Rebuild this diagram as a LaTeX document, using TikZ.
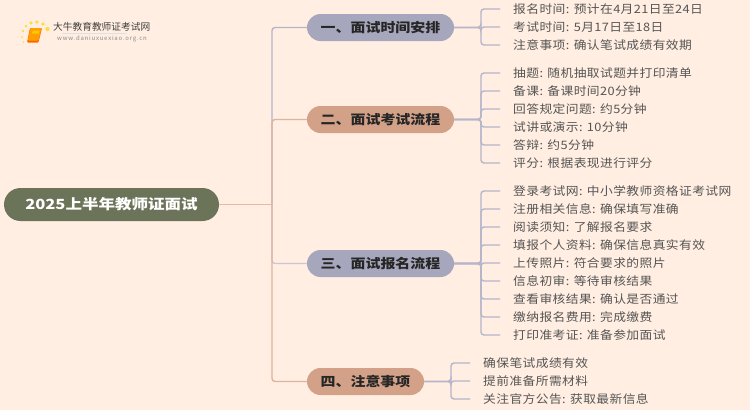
\documentclass[tikz,border=0pt]{standalone}
\usepackage{fontspec}
\setmainfont{Noto Sans CJK SC}
\usetikzlibrary{calc}
\definecolor{bgc}{HTML}{FFEEE1}
\definecolor{rootc}{HTML}{6B7358}
\definecolor{bluec}{HTML}{A6A6BC}
\definecolor{tanc}{HTML}{D2A187}
\definecolor{lblue}{HTML}{B5B5CB}
\definecolor{ltan}{HTML}{E6BBA3}
\definecolor{txt}{HTML}{555555}
\newcommand{\spc}[1]{\addfontfeature{LetterSpace=#1}}
\newcommand{\strc}[1]{\addfontfeature{FakeStretch=#1}}
\tikzset{
 x=1pt,y=-1pt,
 rootnode/.style={rounded corners=16.5pt,fill=rootc,text=white,minimum width=215pt,minimum height=33pt,inner sep=0pt,font=\fontsize{14}{15}\selectfont\bfseries\strc{1.18}},
 branch/.style={rounded corners=13.5pt,minimum height=27pt,minimum width=147pt,inner sep=0pt,text=black!85,font=\fontsize{13}{14}\selectfont\bfseries\strc{1.15}},
 leaf/.style={anchor=west,inner ysep=0pt,inner xsep=13pt,text=txt,font=\fontsize{11.6}{13}\selectfont\strc{1.1}\spc{3.5}},
 conn/.style={line width=1.4pt,rounded corners=3pt},
}
\begin{document}
\begin{tikzpicture}
\useasboundingbox (0,0) rectangle (750,410);
\fill[bgc] (0,0) rectangle (750,410);
% logo
\foreach \a/\b/\r in {23/31/1.3,26/26/1.5,31/23/1.8,37/22/1.9,43/24/1.9,47.5/29/2.2,22/37/1,23.5/42/.8}
  \fill[yellow!75!orange,opacity=.7] (\a,\b) circle (\r);
\fill[orange!80!red,rounded corners=1pt] (30,28) -- (42,28) -- (38.5,42.5) -- (27,42.5) -- cycle;
\fill[orange!75!yellow,rounded corners=1pt] (30.5,28) -- (41.5,28) -- (38.5,40.5) -- (27.8,40.5) -- cycle;
\fill[yellow!60!orange] (32.5,30.5) -- (39.5,30.5) -- (39,33.5) -- (32,33.5) -- cycle;
\fill[black!12] (62,33) rectangle (127,33.7);
\node[inner sep=0pt,anchor=west,text=black!75,font=\fontsize{9.7}{12}\selectfont] (logot) at (53,27) {大牛教育教师证考试网};
\node[inner sep=0pt,anchor=west,text=black!45,font=\fontsize{6}{7}\selectfont\spc{13}] (logou) at (57,39) {www.daniuxuexiao.org.cn};
% nodes
\node[rootnode] (root) at (111.5,204.5) {2025上半年教师证面试};
\node[branch,fill=bluec] (b1) at (380.5,27.5) {一、面试时间安排};
\node[branch,fill=tanc] (b2) at (380.5,119.5) {二、面试考试流程};
\node[branch,fill=bluec] (b3) at (380.5,263.5) {三、面试报名流程};
\node[branch,fill=tanc,minimum width=117pt] (b4) at (365.5,381.5) {四、注意事项};
\coordinate (tr) at (272,204.5);
% trunk connectors
\draw[conn,lblue] (tr) |- (b1.west);
\draw[conn,lblue!70!bgc] (tr) |- (b3.west);
\draw[conn,ltan] (root.east) -- (tr);
\draw[conn,tanc!75!bgc] (tr) |- (b2.west);
\draw[conn,tanc!75!bgc] (tr) |- (b4.west);
% leaves
\foreach \n/\y/\t in {
 a1/9/报名时间: 预计在4月21日至24日,
 a2/27/考试时间: 5月17日至18日,
 a3/45/注意事项: 确认笔试成绩有效期}{
 \node[leaf] (\n) at (500,\y) {\t};
 \draw[conn,lblue] (b1.east) -- (481,27.5) |- (\n.west);
}
\foreach \n/\y/\t in {
 c1/73/抽题: 随机抽取试题并打印清单,
 c2/91/备课: 备课时间20分钟,
 c3/109/回答规定问题: 约5分钟,
 c4/127/试讲或演示: 10分钟,
 c5/145/答辩: 约5分钟,
 c6/163/评分: 根据表现进行评分}{
 \node[leaf] (\n) at (500,\y) {\t};
 \draw[conn,lblue] (b2.east) -- (481,119.5) |- (\n.west);
}
\foreach \n/\y/\t in {
 d1/191/登录考试网: 中小学教师资格证考试网,
 d2/209/注册相关信息: 确保填写准确,
 d3/227/阅读须知: 了解报名要求,
 d4/245/填报个人资料: 确保信息真实有效,
 d5/263/上传照片: 符合要求的照片,
 d6/281/信息初审: 等待审核结果,
 d7/299/查看审核结果: 确认是否通过,
 d8/317/缴纳报名费用: 完成缴费,
 d9/335/打印准考证: 准备参加面试}{
 \node[leaf] (\n) at (500,\y) {\t};
 \draw[conn,lblue] (b3.east) -- (481,263.5) |- (\n.west);
}
\foreach \n/\y/\t in {
 e1/363/确保笔试成绩有效,
 e2/381/提前准备所需材料,
 e3/399/关注官方公告: 获取最新信息}{
 \node[leaf] (\n) at (470,\y) {\t};
 \draw[conn,lblue] (b4.east) -- (451,381.5) |- (\n.west);
}
\end{tikzpicture}
\end{document}
